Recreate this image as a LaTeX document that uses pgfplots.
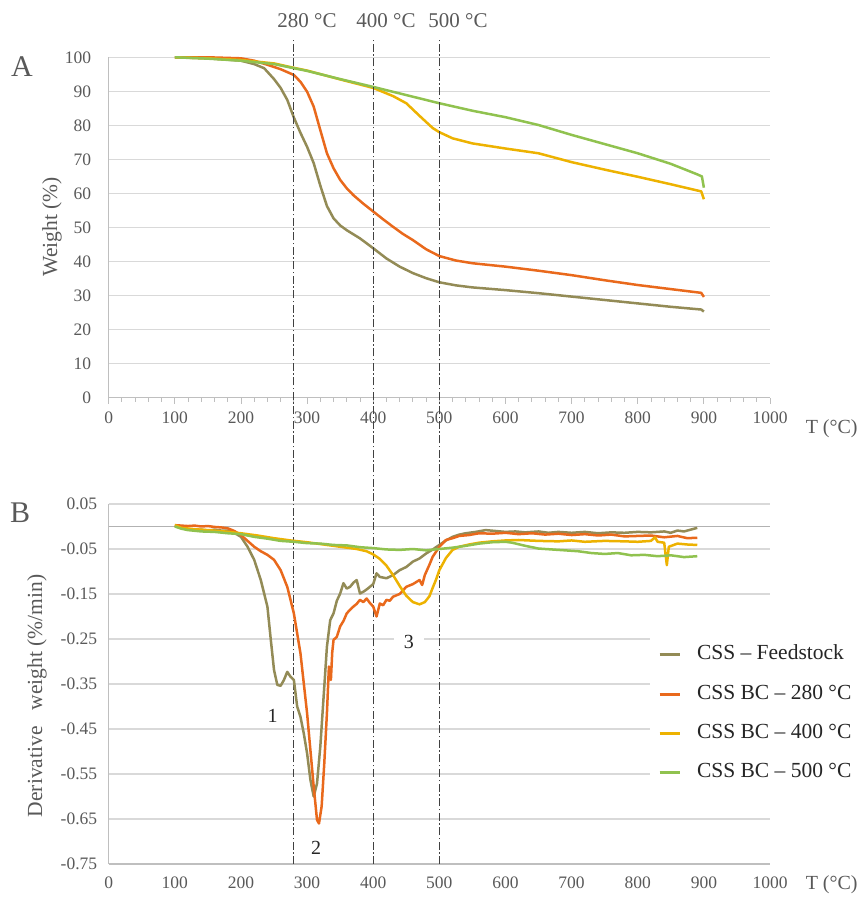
\documentclass[border=0pt]{standalone}
\usepackage{fontspec}
\setmainfont{Liberation Serif}
\usepackage{pgfplots}
\pgfplotsset{compat=1.18}
\definecolor{cF}{HTML}{938B56}
\definecolor{cO}{HTML}{E9691C}
\definecolor{cY}{HTML}{EDB201}
\definecolor{cG}{HTML}{90C24F}
\definecolor{gridc}{HTML}{D9D9D9}
\definecolor{axc}{HTML}{BFBFBF}
\definecolor{txtc}{HTML}{595959}
\definecolor{ddc}{HTML}{404040}
\pgfplotsset{
  common/.style={
    scale only axis, width=661.3pt, xmin=0, xmax=1000,
    xtick={0,100,...,1000},
    /pgf/number format/assume math mode=true,
    /pgf/number format/1000 sep={},
    ymajorgrids, grid style={draw=gridc, line width=1.1pt},
    axis x line*=bottom, axis y line*=left,
    axis line style={draw=axc, line width=1.1pt, -},
    ytick style={draw=none},
    tick label style={font=\fontsize{17.5}{20}\selectfont, text=txtc},
    yticklabel style={xshift=-8pt},
    ylabel style={font=\fontsize{21.5}{24}\selectfont, text=txtc},
    xlabel style={font=\fontsize{20}{23}\selectfont, text=txtc},
    clip=false,
    every axis plot/.append style={line width=2.5pt, line join=round},
  }
}
\begin{document}
\begin{tikzpicture}[x=1pt,y=1pt]
\path[use as bounding box] (0,0) rectangle (863,899);
% ---------------- Top: TGA ----------------
\begin{axis}[common, name=top, at={(108.7pt,501.3pt)}, anchor=south west,
  height=340.4pt, ymin=0, ymax=100, ytick={0,10,...,100},
  minor x tick num=4, tick align=outside,
  xtick style={draw=axc, line width=0.9pt},
  major tick length=6pt, minor tick length=4pt,
  xticklabel style={yshift=-5pt},
  ylabel={Weight (\%)},
  ylabel style={at={(axis description cs:-0.0857,0.5015)}, anchor=center},
  xlabel={T (°C)},
  xlabel style={at={(axis description cs:1.0933,-0.092)}, anchor=center},
]
\addplot[cF] coordinates {(100,100) (150,99.7) (200,99.0) (220,98.0) (235,96.8) (250,93.6) (260,91.0) (270,87.5) (280,82.3) (290,77.8) (300,73.7) (310,68.9) (320,62.3) (330,56.3) (340,52.7) (350,50.6) (360,49.2) (380,46.8) (400,43.9) (420,40.9) (440,38.5) (460,36.6) (480,35.1) (500,33.9) (525,33.0) (550,32.4) (600,31.6) (650,30.7) (700,29.7) (750,28.7) (800,27.7) (850,26.7) (896,25.9) (900,25.3)};
\addplot[cO] coordinates {(100,100) (150,100) (200,99.7) (220,99) (240,97.8) (260,96.5) (280,94.8) (290,92.8) (300,89.9) (310,85.5) (320,78.6) (330,71.8) (340,67.4) (350,64.0) (360,61.5) (370,59.5) (385,57.0) (400,54.7) (415,52.4) (430,50.2) (445,48.1) (460,46.3) (480,43.6) (500,41.6) (525,40.3) (550,39.5) (600,38.5) (650,37.3) (700,36.0) (750,34.5) (800,33.1) (850,31.9) (896,30.8) (900,29.6)};
\addplot[cY] coordinates {(100,100) (150,99.7) (200,99.2) (250,98.2) (280,96.9) (300,96.1) (350,93.5) (400,91.0) (415,89.8) (430,88.6) (450,86.5) (470,82.8) (490,79.2) (500,78.0) (520,76.2) (550,74.7) (600,73.2) (650,71.8) (700,69.2) (750,67.0) (800,64.9) (850,62.7) (896,60.6) (900,58.3)};
\addplot[cG] coordinates {(100,100) (150,99.6) (200,99.0) (250,98.0) (280,96.8) (300,96.0) (350,93.6) (400,91.3) (450,88.9) (500,86.5) (550,84.3) (600,82.4) (650,80.1) (700,77.2) (750,74.5) (800,71.8) (850,68.7) (890,65.6) (897,65.0) (900,61.7)};
\node[font=\fontsize{30}{32}\selectfont, text=txtc] at (axis description cs:-0.131,0.9715) {A};
\node[font=\fontsize{21}{24}\selectfont, text=txtc] at (axis cs:299.9,110.66) {280 °C};
\node[font=\fontsize{21}{24}\selectfont, text=txtc] at (axis cs:419.3,110.66) {400 °C};
\node[font=\fontsize{21}{24}\selectfont, text=txtc] at (axis cs:528.2,110.66) {500 °C};
\end{axis}
% ---------------- Bottom: DTG ----------------
\begin{axis}[common, name=bot, at={(108.7pt,35pt)}, anchor=south west,
  height=360pt, ymin=-0.75, ymax=0.05,
  ytick={0.05,-0.05,-0.15,-0.25,-0.35,-0.45,-0.55,-0.65,-0.75},
  yticklabels={0.05,-0.05,-0.15,-0.25,-0.35,-0.45,-0.55,-0.65,-0.75},
  xtick style={draw=none},
  xticklabel style={yshift=-9pt},
  ylabel={Derivative\ \ \ weight (\%/min)},
  ylabel style={at={(axis description cs:-0.1084,0.4667)}, anchor=center},
  xlabel={T (°C)},
  xlabel style={at={(axis description cs:1.0933,-0.0583)}, anchor=center},
  legend cell align=left,
  legend style={at={(0.8186,0.645)}, anchor=north west, draw=none, fill=white,
    font=\fontsize{21.5}{24}\selectfont, text=black!85,
    nodes={inner sep=2pt, text height=15pt, text depth=5pt},
    row sep=15.4pt, inner xsep=8pt, inner ysep=10.7pt},
  legend image code/.code={\draw[#1, line width=3pt] (0pt,0pt) -- (20pt,0pt); \path (34pt,0pt);},
  /tikz/every even column/.append style={column sep=0pt},
]
\draw[axc!80!gray, line width=1.3pt] (axis cs:0,0) -- (axis cs:1000,0);
\foreach \t in {280,400,500} {
  \edef\temp{\noexpand\draw[ddc, line width=1pt, dash pattern=on 8pt off 2.5pt on 1.5pt off 2.5pt] (axis cs:\t,-0.75) -- (axis cs:\t,1.081);}
  \temp
}
\addplot[cF] coordinates {(100,0.002) (110,-0.004) (120,-0.006) (130,-0.008) (140,-0.007) (150,-0.009) (160,-0.007) (170,-0.009) (180,-0.009) (190,-0.014) (200,-0.023) (210,-0.045) (220,-0.074) (230,-0.119) (240,-0.178) (245,-0.25) (250,-0.319) (255,-0.352) (260,-0.354) (265,-0.341) (270,-0.323) (275,-0.334) (280,-0.341) (285,-0.40) (290,-0.423) (295,-0.46) (300,-0.504) (305,-0.563) (310,-0.60) (315,-0.571) (320,-0.489) (325,-0.378) (330,-0.267) (335,-0.208) (340,-0.193) (345,-0.165) (350,-0.149) (355,-0.126) (360,-0.138) (365,-0.134) (370,-0.125) (375,-0.119) (380,-0.149) (385,-0.145) (390,-0.140) (395,-0.134) (400,-0.128) (405,-0.104) (410,-0.112) (420,-0.115) (430,-0.108) (440,-0.097) (450,-0.090) (460,-0.078) (470,-0.071) (480,-0.060) (490,-0.051) (500,-0.041) (510,-0.031) (520,-0.023) (530,-0.018) (540,-0.015) (555,-0.012) (570,-0.008) (585,-0.010) (600,-0.012) (615,-0.011) (630,-0.013) (650,-0.011) (665,-0.014) (680,-0.012) (700,-0.014) (720,-0.012) (740,-0.015) (760,-0.013) (780,-0.014) (800,-0.012) (820,-0.013) (840,-0.011) (850,-0.014) (860,-0.009) (870,-0.011) (880,-0.007) (890,-0.003)};
\addplot[cO] coordinates {(100,0.003) (110,0.002) (120,0.001) (130,0.002) (140,0.0) (150,0.001) (160,-0.001) (170,-0.002) (180,-0.004) (190,-0.010) (200,-0.019) (210,-0.032) (220,-0.045) (230,-0.055) (240,-0.063) (250,-0.074) (260,-0.097) (270,-0.134) (280,-0.193) (290,-0.282) (300,-0.415) (305,-0.497) (310,-0.578) (315,-0.652) (318,-0.660) (322,-0.622) (326,-0.526) (330,-0.415) (333,-0.311) (336,-0.341) (338,-0.28) (340,-0.252) (345,-0.245) (350,-0.222) (355,-0.210) (360,-0.193) (365,-0.185) (370,-0.178) (375,-0.172) (380,-0.163) (385,-0.168) (390,-0.160) (395,-0.170) (400,-0.178) (405,-0.200) (410,-0.171) (415,-0.175) (420,-0.163) (425,-0.165) (430,-0.156) (440,-0.150) (450,-0.134) (460,-0.128) (470,-0.119) (474,-0.130) (478,-0.108) (485,-0.085) (490,-0.067) (500,-0.045) (510,-0.030) (520,-0.026) (530,-0.021) (545,-0.019) (560,-0.015) (580,-0.016) (600,-0.014) (620,-0.017) (640,-0.015) (660,-0.018) (680,-0.016) (700,-0.019) (720,-0.017) (740,-0.020) (760,-0.018) (780,-0.022) (800,-0.021) (820,-0.020) (840,-0.024) (860,-0.021) (875,-0.026) (890,-0.025)};
\addplot[cY] coordinates {(100,0.003) (110,-0.003) (130,-0.006) (150,-0.008) (175,-0.011) (200,-0.015) (225,-0.020) (250,-0.026) (275,-0.031) (300,-0.035) (325,-0.040) (350,-0.045) (375,-0.050) (390,-0.055) (400,-0.062) (410,-0.072) (420,-0.087) (430,-0.108) (440,-0.132) (450,-0.154) (460,-0.168) (470,-0.173) (478,-0.168) (485,-0.155) (490,-0.136) (495,-0.118) (500,-0.097) (510,-0.070) (520,-0.052) (530,-0.045) (545,-0.040) (560,-0.036) (580,-0.033) (600,-0.031) (620,-0.030) (650,-0.032) (680,-0.033) (700,-0.031) (720,-0.034) (750,-0.032) (780,-0.033) (800,-0.034) (820,-0.032) (826,-0.024) (830,-0.034) (840,-0.036) (844,-0.086) (847,-0.045) (860,-0.038) (875,-0.040) (890,-0.041)};
\addplot[cG] coordinates {(100,0.000) (110,-0.005) (120,-0.008) (140,-0.011) (160,-0.012) (180,-0.015) (200,-0.017) (220,-0.023) (240,-0.027) (260,-0.032) (280,-0.034) (300,-0.037) (320,-0.038) (340,-0.041) (360,-0.042) (380,-0.046) (400,-0.048) (420,-0.051) (440,-0.052) (460,-0.050) (480,-0.053) (500,-0.050) (520,-0.047) (540,-0.043) (560,-0.038) (580,-0.035) (600,-0.034) (610,-0.036) (630,-0.043) (650,-0.049) (670,-0.051) (690,-0.053) (710,-0.055) (730,-0.059) (750,-0.061) (770,-0.059) (790,-0.064) (810,-0.063) (830,-0.066) (850,-0.064) (870,-0.068) (890,-0.066)};
\legend{CSS – Feedstock, CSS BC – 280 °C, CSS BC – 400 °C, CSS BC – 500 °C}
\node[font=\fontsize{30}{32}\selectfont, text=txtc] at (axis description cs:-0.134,0.975) {B};
\node[font=\fontsize{20}{22}\selectfont, text=black!85] at (axis cs:248,-0.421) {1};
\node[font=\fontsize{20}{22}\selectfont, text=black!85] at (axis cs:313.5,-0.714) {2};
\node[font=\fontsize{20}{22}\selectfont, text=black!85, fill=white, inner xsep=10pt] at (axis cs:454,-0.257) {3};
\end{axis}
\end{tikzpicture}
\end{document}
